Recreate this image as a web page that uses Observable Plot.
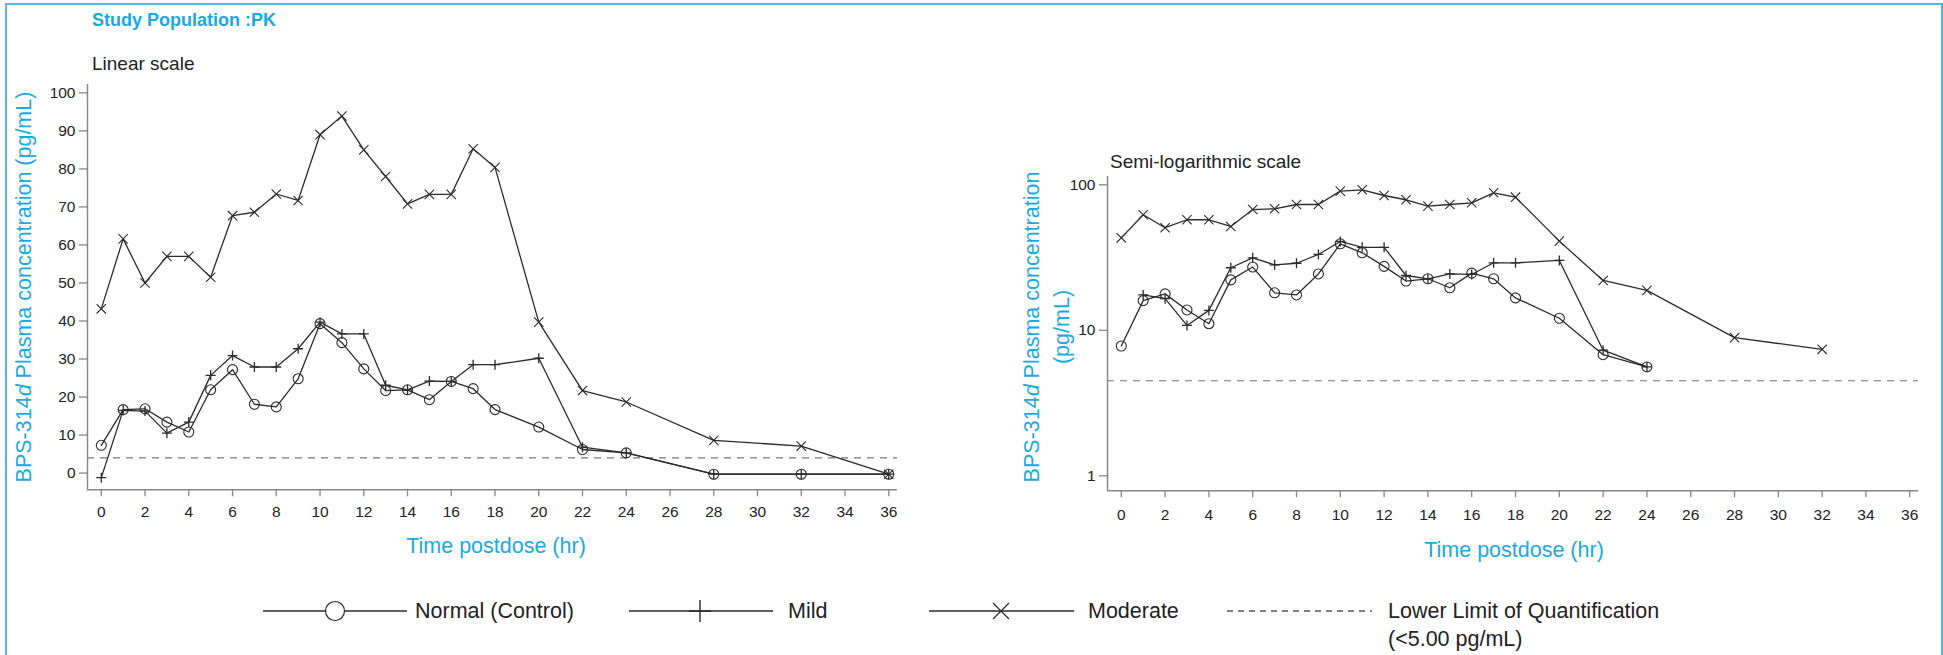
<!DOCTYPE html>
<html>
<head>
<meta charset="utf-8">
<script src="https://cdn.jsdelivr.net/npm/d3@7"></script>
<script src="https://cdn.jsdelivr.net/npm/@observablehq/plot@0.6"></script>
<style>
  html, body { margin: 0; padding: 0; background: #fff; }
  body { width: 1943px; height: 655px; position: relative; overflow: hidden;
         font-family: "Liberation Sans", Arial, Helvetica, sans-serif; }
  .abs { position: absolute; white-space: nowrap; }
  .blue { color: #1aa9e1; }
  .plotbox { position: absolute; top: 0; }
  .plotbox svg { max-width: none !important; background: transparent !important; overflow: visible; }
  .plotbox svg text { font-size: 15.5px !important; fill: #222; }
  svg g[aria-label="x-axis tick"], svg g[aria-label="y-axis tick"] { stroke: #888; stroke-width: 1.3; }
  svg g[aria-label="x-axis"] g.tick line, svg g[aria-label="y-axis"] g.tick line { stroke: #888; stroke-width: 1.3; }
</style>
</head>
<body>
<div id="border" class="abs" style="left:5px; top:3px; width:1934px; height:680px; border:2px solid #4fb9e8; border-bottom:none;"></div>

<div class="abs blue" style="left:92px; top:11px; font-size:18px; line-height:1; font-weight:bold;">Study Population :PK</div>
<div class="abs" style="left:92px; top:53.5px; font-size:19px; line-height:1; color:#222;">Linear scale</div>
<div class="abs" style="left:1110px; top:152px; font-size:19px; line-height:1; color:#222;">Semi-logarithmic scale</div>

<div id="left" class="plotbox" style="left:0px;"></div>
<div id="right" class="plotbox" style="left:960px;"></div>

<!-- axis labels -->
<div class="abs blue" style="left:25px; top:287px; font-size:21.5px; line-height:1; transform:translate(-50%,-50%) rotate(-90deg);">BPS-314<i>d</i> Plasma concentration (pg/mL)</div>
<div class="abs blue" style="left:1047px; top:327px; font-size:21.5px; line-height:30px; text-align:center; transform:translate(-50%,-50%) rotate(-90deg);">BPS-314<i>d</i> Plasma concentration<br>(pg/mL)</div>
<div class="abs blue" style="left:496px; top:547px; font-size:21.5px; line-height:1; transform:translate(-50%,-50%);">Time postdose (hr)</div>
<div class="abs blue" style="left:1514px; top:551px; font-size:21.5px; line-height:1; transform:translate(-50%,-50%);">Time postdose (hr)</div>

<!-- legend -->
<svg id="legend" class="abs" style="left:0; top:580px;" width="1943" height="75"></svg>
<div class="abs" style="left:415px; top:597px; font-size:21.5px; line-height:28px; color:#222;">Normal (Control)</div>
<div class="abs" style="left:788px; top:597px; font-size:21.5px; line-height:28px; color:#222;">Mild</div>
<div class="abs" style="left:1088px; top:597px; font-size:21.5px; line-height:28px; color:#222;">Moderate</div>
<div class="abs" style="left:1388px; top:597px; font-size:21.5px; line-height:28px; color:#222;">Lower Limit of Quantification<br>(&lt;5.00 pg/mL)</div>

<script>
// ---------------- data ----------------
const times = [0,1,2,3,4,5,6,7,8,9,10,11,12,13,14,15,16,17,18,20,22,24,28,32,36];
const groups = ["Normal (Control)", "Mild", "Moderate"];

// Linear-scale panel (pg/mL)
const normalLin   = [7.3,16.7,16.9,13.4,10.8,21.9,27.2,18.1,17.4,24.8,39.3,34.3,27.4,21.7,21.9,19.3,24.1,22.2,16.7,12.1,6.2,5.3,-0.3,-0.3,-0.3];
const mildLin     = [-1.2,16.5,16.3,10.5,13.4,25.7,30.9,27.9,27.9,32.7,39.7,36.6,36.6,23.1,21.9,24.2,24.1,28.5,28.5,30.2,6.8,5.3,-0.3,-0.3,-0.3];
const moderateLin = [43.2,61.6,50.0,57.0,57.0,51.5,67.7,68.6,73.4,71.7,89.0,93.9,85.0,78.0,70.8,73.3,73.3,85.3,80.4,39.7,21.7,18.7,8.6,7.1,-0.3];

// Semi-logarithmic panel (pg/mL), null = not plotted
const normalLog   = [7.8,16.0,17.8,13.8,11.1,22.2,27.2,18.1,17.5,24.4,39.3,34.1,27.5,21.8,22.6,19.6,24.7,22.6,16.7,12.1,6.8,5.6,null,null,null];
const mildLog     = [null,17.5,16.5,10.8,13.7,26.9,31.5,28.2,28.9,33.2,40.8,37.2,37.2,23.8,22.6,24.4,24.2,29.1,29.1,30.2,7.3,5.6,null,null,null];
const moderateLog = [43.2,62.2,50.7,57.5,57.5,51.7,67.6,68.4,73.2,73.2,90.4,92.4,84.4,78.9,71.3,73.2,75.2,88.1,82.2,41.0,22.0,18.8,8.9,7.4,null];

// lower limit of quantification line as drawn in each panel
const lloqLin = 4.0;
const lloqLog = 4.5;

// tick labels
const xTicks = [0,2,4,6,8,10,12,14,16,18,20,22,24,26,28,30,32,34,36];
const yTicksLin = [0,10,20,30,40,50,60,70,80,90,100];
const yTicksLog = [1,10,100];

// ---------------- helpers ----------------
function tidy(series) {
  const out = [];
  series.forEach((vals, gi) => {
    vals.forEach((v, i) => out.push({t: times[i], v: v, group: groups[gi]}));
  });
  return out;
}
const INK = "#2b2b2b";
const plusSym = { draw(ctx, size) { const r = Math.sqrt(size / Math.PI);
  ctx.moveTo(-r, 0); ctx.lineTo(r, 0); ctx.moveTo(0, -r); ctx.lineTo(0, r); } };
const timesSym = { draw(ctx, size) { const r = Math.sqrt(size / Math.PI) * 0.9;
  ctx.moveTo(-r, -r); ctx.lineTo(r, r); ctx.moveTo(-r, r); ctx.lineTo(r, -r); } };

function panelMarks(data, xDom, yDom, lloq) {
  const ok = d => d.v != null;
  return [
    Plot.ruleY([lloq], {stroke: "#777", strokeWidth: 1.2, strokeDasharray: "7,6"}),
    Plot.ruleX([xDom[0]], {stroke: "#888", strokeWidth: 1.5}),
    Plot.ruleY([yDom[0]], {stroke: "#888", strokeWidth: 1.5}),
    Plot.line(data, {x: "t", y: "v", z: "group", stroke: INK, strokeWidth: 1.3}),
    Plot.dot(data.filter(d => d.group === groups[0] && ok(d)), {x: "t", y: "v", r: 5, symbol: "circle", stroke: INK, fill: "none", strokeWidth: 1.1}),
    Plot.dot(data.filter(d => d.group === groups[1] && ok(d)), {x: "t", y: "v", r: 5, symbol: plusSym, stroke: INK, fill: "none", strokeWidth: 1.3}),
    Plot.dot(data.filter(d => d.group === groups[2] && ok(d)), {x: "t", y: "v", r: 5.2, symbol: timesSym, stroke: INK, fill: "none", strokeWidth: 1.1})
  ];
}

const commonStyle = {fontFamily: '"Liberation Sans", Arial, sans-serif', fontSize: "15.5px", color: "#222", background: "transparent", overflow: "visible"};

// ---------------- left: linear ----------------
const xDom = [-0.63, 36.4];
const yDomLin = [-4.4, 102.2];
const linData = tidy([normalLin, mildLin, moderateLin]);
const leftPlot = Plot.plot({
  width: 960, height: 655,
  marginLeft: 87, marginRight: 63, marginTop: 84, marginBottom: 165.7,
  style: commonStyle,
  x: {domain: xDom, ticks: xTicks, tickSize: 7, tickPadding: 9, label: null, tickFormat: d => String(d)},
  y: {domain: yDomLin, ticks: yTicksLin, tickSize: 8, tickPadding: 4, label: null, tickFormat: d => String(d)},
  marks: panelMarks(linData, xDom, yDomLin, lloqLin)
});
document.getElementById("left").appendChild(leftPlot);

// ---------------- right: semi-log ----------------
const yDomLog = [0.789, 114];
const logData = tidy([normalLog, mildLog, moderateLog]);
const rightPlot = Plot.plot({
  width: 983, height: 655,
  marginLeft: 147, marginRight: 25, marginTop: 176, marginBottom: 164.7,
  style: commonStyle,
  x: {domain: xDom, ticks: xTicks, tickSize: 7, tickPadding: 11, label: null, tickFormat: d => String(d)},
  y: {type: "log", domain: yDomLog, ticks: yTicksLog, tickSize: 8, tickPadding: 4, label: null, tickFormat: d => String(d)},
  marks: panelMarks(logData, xDom, yDomLog, lloqLog)
});
document.getElementById("right").appendChild(rightPlot);

// ---------------- legend glyphs ----------------
const lg = d3.select("#legend");
const ly = 31; // 611 page y
function seg(x1, x2, dash) {
  lg.append("line").attr("x1", x1).attr("x2", x2).attr("y1", ly).attr("y2", ly)
    .attr("stroke", dash ? "#555" : INK).attr("stroke-width", 1.3)
    .attr("stroke-dasharray", dash ? "6,5" : null);
}
seg(263, 407); lg.append("circle").attr("cx", 335).attr("cy", ly).attr("r", 9.5).attr("fill", "white").attr("stroke", INK).attr("stroke-width", 1.2);
seg(629, 773); lg.append("path").attr("d", `M689,${ly}H711M700,${ly-11}V${ly+11}`).attr("stroke", INK).attr("stroke-width", 1.4);
seg(929, 1074); lg.append("path").attr("d", `M993,${ly-8}L1009,${ly+8}M993,${ly+8}L1009,${ly-8}`).attr("stroke", INK).attr("stroke-width", 1.2);
seg(1227, 1372, true);
</script>
</body>
</html>
